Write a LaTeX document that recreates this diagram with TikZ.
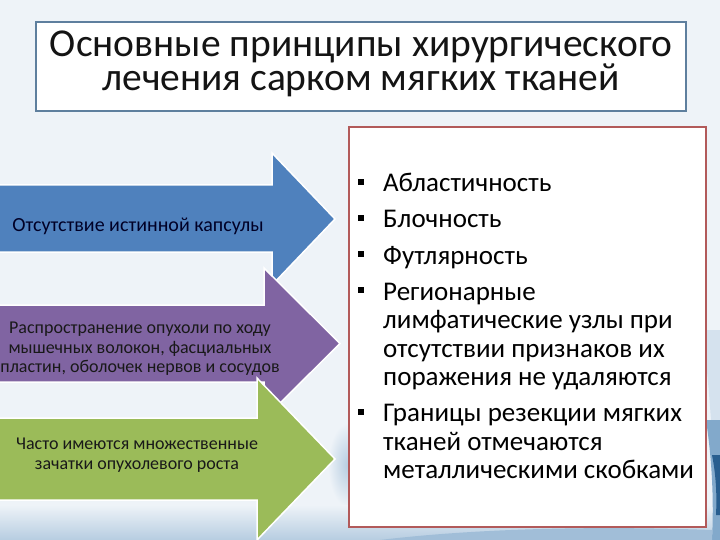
\documentclass[tikz,border=0pt]{standalone}
\usepackage{fontspec}
\setmainfont{Carlito}
\usetikzlibrary{shadows}
\definecolor{bgc}{HTML}{EEF3F8}
\definecolor{titleframe}{HTML}{5E7F9E}
\definecolor{redframe}{HTML}{B25A5A}
\definecolor{arblue}{HTML}{4F81BD}
\definecolor{arpurple}{HTML}{8064A2}
\definecolor{argreen}{HTML}{9BBB59}
\definecolor{swoosh}{HTML}{2F6FA8}
\tikzset{
  arrowshape/.style={draw=white, line width=1.5pt, line join=miter},
  arrowtext/.style={align=center, font=\fontsize{18}{19.5}\selectfont, text=black!90},
  itemline/.style={anchor=base west, inner sep=0pt, font=\fontsize{27}{28.5}\selectfont},
  titleline/.style={anchor=base, inner sep=0pt, font=\fontsize{39.5}{34}\selectfont, text=black!92},
  bulletsq/.style={fill=black, minimum size=6pt, inner sep=0pt},
}
\begin{document}
\begin{tikzpicture}[x=1pt,y=-1pt]
\useasboundingbox (0,0) rectangle (720,540);
% background
\fill[bgc] (0,0) rectangle (720,540);
\shade[inner color=swoosh!35, outer color=bgc] (348,465) ellipse (20 and 42);
\shade[top color=bgc, bottom color=swoosh!35] (0,505) rectangle (720,540);
\fill[swoosh!20] (702,330) .. controls (712,400) and (712,460) .. (720,540) -- (720,330) -- cycle;
\fill[swoosh!60] (706,420) .. controls (712,460) and (714,500) .. (712,540) -- (720,540) -- (720,420) -- cycle;
\fill[swoosh!85!black] (712,455) .. controls (716,475) and (717,495) .. (716,515) -- (720,515) -- (720,455) -- cycle;
\fill[swoosh!45] (380,540) .. controls (480,528) and (600,526) .. (712,530) -- (712,540) -- cycle;
% title
\node[draw=titleframe, line width=1.5pt, fill=white, minimum width=650pt, minimum height=89pt, inner sep=0pt] (titlebox) at (361,66.5) {};
\node[titleline, text depth=0pt] (title1) at (361,56.5) {Основные принципы хирургического};
\node[titleline, text height=22pt] (title2) at (361,91) {лечения сарком мягких тканей};
% arrows
\draw[arrowshape, fill=arblue] (-2,185) -- (272,185) -- (272,153) -- (335,219) -- (272,285) -- (272,252) -- (-2,252) -- cycle;
\draw[arrowshape, fill=arpurple] (-2,305) -- (264,305) -- (264,268) -- (340,343.5) -- (264,419) -- (264,382) -- (-2,382) -- cycle;
\draw[arrowshape, fill=argreen] (-2,418) -- (257,418) -- (257,378) -- (335,459) -- (257,540) -- (257,500) -- (-2,500) -- cycle;
\node[arrowtext, font=\fontsize{20}{22}\selectfont, text=black!85!blue] (t1) at (138,226) {Отсутствие истинной капсулы};
\node[arrowtext] (t2) at (140,349) {Распространение опухоли по ходу\\мышечных волокон, фасциальных\\пластин, оболочек нервов и сосудов};
\node[arrowtext] (t3) at (137,455) {Часто имеются множественные\\зачатки опухолевого роста};
% right box
\node[draw=redframe, line width=1.2pt, fill=white, minimum width=357pt, minimum height=400pt, inner sep=0pt, drop shadow={opacity=0.25, shadow xshift=1pt, shadow yshift=-1pt}] (rbox) at (527.5,327) {};
\node[bulletsq] (b1) at (361,182) {};
\node[bulletsq] (b2) at (361,218) {};
\node[bulletsq] (b3) at (361,254) {};
\node[bulletsq] (b4) at (361,290) {};
\node[bulletsq] (b5) at (361,411.5) {};
\node[itemline] (i1) at (383,192) {Абластичность};
\node[itemline] (i2) at (383,228) {Блочность};
\node[itemline] (i3) at (383,264) {Футлярность};
\node[itemline] (i4a) at (383,300) {Регионарные};
\node[itemline] (i4b) at (383,328.5) {лимфатические узлы при};
\node[itemline] (i4c) at (383,357) {отсутствии признаков их};
\node[itemline] (i4d) at (383,385.5) {поражения не удаляются};
\node[itemline] (i5a) at (383,421.5) {Границы резекции мягких};
\node[itemline] (i5b) at (383,450) {тканей отмечаются};
\node[itemline] (i5c) at (383,478.5) {металлическими скобками};
\end{tikzpicture}
\end{document}
